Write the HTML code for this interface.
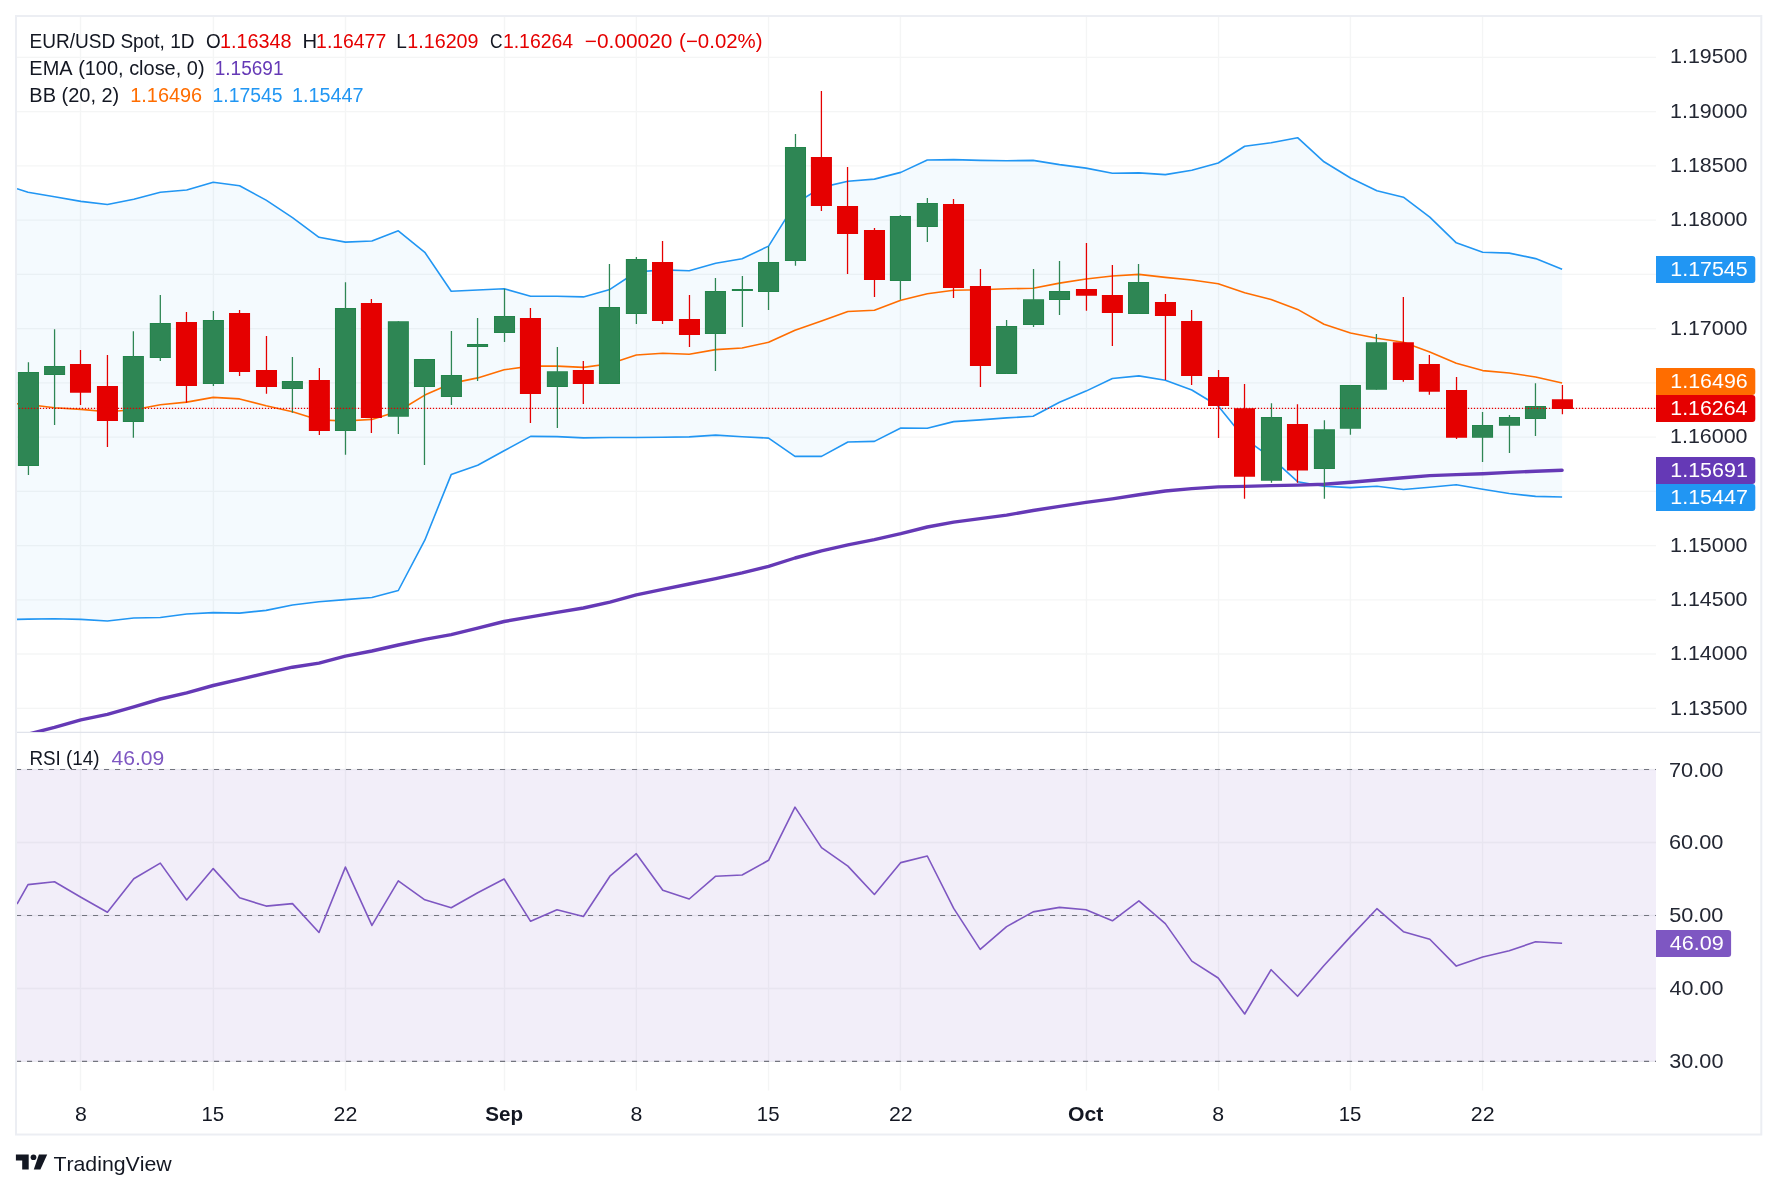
<!DOCTYPE html><html><head><meta charset="utf-8"><title>EUR/USD</title>
<style>html,body{margin:0;padding:0;background:#fff}svg{display:block;will-change:transform}text{font-family:"Liberation Sans",sans-serif;font-kerning:none}</style></head><body>
<svg width="1777" height="1191" viewBox="0 0 1777 1191">
<defs><clipPath id="cm"><rect x="17" y="17" width="1639" height="715"/></clipPath><clipPath id="cr"><rect x="17" y="733" width="1639" height="357"/></clipPath></defs>
<rect width="1777" height="1191" fill="#fff"/>
<path d="M80.50 17V1090.5M213.40 17V1090.5M345.49 17V1090.5M504.51 17V1090.5M636.39 17V1090.5M768.53 17V1090.5M900.42 17V1090.5M1086.45 17V1090.5M1218.54 17V1090.5M1350.41 17V1090.5M1482.53 17V1090.5M17 57.4H1656M17 111.6H1656M17 165.9H1656M17 220.1H1656M17 274.4H1656M17 328.6H1656M17 382.8H1656M17 437.1H1656M17 491.3H1656M17 545.6H1656M17 599.8H1656M17 654.0H1656M17 708.3H1656M17 842.5H1656M17 988.5H1656" stroke="rgba(40,50,60,0.05)" stroke-width="1.35" fill="none"/>
<path d="M17 732.3H1761" stroke="#e0e3eb" stroke-width="1.3" fill="none"/>
<g clip-path="url(#cm)">
<polygon points="17.0,188.7 28.0,192.3 54.5,196.7 80.9,201.4 107.4,204.5 133.8,199.3 160.3,192.3 186.7,190.0 213.2,182.2 239.6,185.8 266.1,200.1 292.5,217.7 319.0,237.3 345.4,242.1 371.9,241.0 398.3,230.8 424.8,252.3 451.2,291.3 477.7,290.0 504.1,288.8 530.6,296.2 557.0,296.2 583.4,296.9 609.9,289.4 636.3,272.0 662.8,269.9 689.2,270.8 715.7,263.3 742.1,258.7 768.6,246.1 795.0,203.8 821.5,187.4 847.9,181.3 874.4,179.1 900.8,172.4 927.3,160.0 953.7,159.6 980.2,160.4 1006.6,160.8 1033.1,160.4 1059.5,164.6 1086.0,168.1 1112.4,173.3 1138.9,172.9 1165.3,174.6 1191.8,170.3 1218.2,163.0 1244.7,146.2 1271.1,142.7 1297.6,137.7 1324.0,161.8 1350.5,178.0 1376.9,190.7 1403.4,197.2 1429.8,217.2 1456.3,242.8 1482.7,252.3 1509.2,253.1 1535.6,258.6 1562.1,269.3 1562.1,497.0 1535.6,496.4 1509.2,493.5 1482.7,489.3 1456.3,484.8 1429.8,487.2 1403.4,489.5 1376.9,486.2 1350.5,487.6 1324.0,486.2 1297.6,481.7 1271.1,457.7 1244.7,438.7 1218.2,406.0 1191.8,390.0 1165.3,380.3 1138.9,375.9 1112.4,378.5 1086.0,391.1 1059.5,402.2 1033.1,416.3 1006.6,417.9 980.2,419.9 953.7,421.6 927.3,428.3 900.8,428.0 874.4,441.4 847.9,442.0 821.5,456.4 795.0,456.4 768.6,438.1 742.1,436.7 715.7,435.1 689.2,436.9 662.8,437.3 636.3,437.5 609.9,437.5 583.4,437.9 557.0,436.6 530.6,436.4 504.1,450.8 477.7,465.3 451.2,474.6 424.8,540.2 398.3,590.5 371.9,597.5 345.4,599.6 319.0,601.8 292.5,605.0 266.1,610.4 239.6,613.1 213.2,612.6 186.7,614.0 160.3,617.5 133.8,618.0 107.4,621.0 80.9,619.4 54.5,618.8 28.0,619.1 17.0,619.4" fill="rgba(33,150,243,0.05)"/>
<polyline points="17.0,403.7 28.0,404.5 54.5,407.8 80.9,409.4 107.4,411.8 133.8,409.8 160.3,404.7 186.7,402.1 213.2,397.4 239.6,398.9 266.1,405.7 292.5,411.8 319.0,419.9 345.4,421.0 371.9,419.4 398.3,411.3 424.8,395.1 451.2,383.4 477.7,377.9 504.1,369.8 530.6,366.1 557.0,366.1 583.4,367.4 609.9,363.7 636.3,355.0 662.8,353.2 689.2,354.2 715.7,349.6 742.1,348.0 768.6,342.3 795.0,330.2 821.5,321.0 847.9,311.5 874.4,310.3 900.8,300.2 927.3,293.7 953.7,290.2 980.2,289.8 1006.6,288.8 1033.1,288.2 1059.5,283.1 1086.0,279.0 1112.4,276.0 1138.9,274.4 1165.3,277.4 1191.8,280.0 1218.2,283.7 1244.7,292.8 1271.1,299.5 1297.6,309.4 1324.0,324.2 1350.5,333.0 1376.9,338.3 1403.4,342.2 1429.8,352.0 1456.3,363.3 1482.7,370.6 1509.2,373.0 1535.6,377.0 1562.1,383.0" fill="none" stroke="#ff6d00" stroke-width="1.6" stroke-linejoin="round"/>
<polyline points="17.0,188.7 28.0,192.3 54.5,196.7 80.9,201.4 107.4,204.5 133.8,199.3 160.3,192.3 186.7,190.0 213.2,182.2 239.6,185.8 266.1,200.1 292.5,217.7 319.0,237.3 345.4,242.1 371.9,241.0 398.3,230.8 424.8,252.3 451.2,291.3 477.7,290.0 504.1,288.8 530.6,296.2 557.0,296.2 583.4,296.9 609.9,289.4 636.3,272.0 662.8,269.9 689.2,270.8 715.7,263.3 742.1,258.7 768.6,246.1 795.0,203.8 821.5,187.4 847.9,181.3 874.4,179.1 900.8,172.4 927.3,160.0 953.7,159.6 980.2,160.4 1006.6,160.8 1033.1,160.4 1059.5,164.6 1086.0,168.1 1112.4,173.3 1138.9,172.9 1165.3,174.6 1191.8,170.3 1218.2,163.0 1244.7,146.2 1271.1,142.7 1297.6,137.7 1324.0,161.8 1350.5,178.0 1376.9,190.7 1403.4,197.2 1429.8,217.2 1456.3,242.8 1482.7,252.3 1509.2,253.1 1535.6,258.6 1562.1,269.3" fill="none" stroke="#2196f3" stroke-width="1.6" stroke-linejoin="round"/>
<polyline points="17.0,619.4 28.0,619.1 54.5,618.8 80.9,619.4 107.4,621.0 133.8,618.0 160.3,617.5 186.7,614.0 213.2,612.6 239.6,613.1 266.1,610.4 292.5,605.0 319.0,601.8 345.4,599.6 371.9,597.5 398.3,590.5 424.8,540.2 451.2,474.6 477.7,465.3 504.1,450.8 530.6,436.4 557.0,436.6 583.4,437.9 609.9,437.5 636.3,437.5 662.8,437.3 689.2,436.9 715.7,435.1 742.1,436.7 768.6,438.1 795.0,456.4 821.5,456.4 847.9,442.0 874.4,441.4 900.8,428.0 927.3,428.3 953.7,421.6 980.2,419.9 1006.6,417.9 1033.1,416.3 1059.5,402.2 1086.0,391.1 1112.4,378.5 1138.9,375.9 1165.3,380.3 1191.8,390.0 1218.2,406.0 1244.7,438.7 1271.1,457.7 1297.6,481.7 1324.0,486.2 1350.5,487.6 1376.9,486.2 1403.4,489.5 1429.8,487.2 1456.3,484.8 1482.7,489.3 1509.2,493.5 1535.6,496.4 1562.1,497.0" fill="none" stroke="#2196f3" stroke-width="1.6" stroke-linejoin="round"/>
<polyline points="17.0,737.5 28.0,734.2 54.5,727.4 80.9,719.8 107.4,714.4 133.8,706.9 160.3,699.0 186.7,692.8 213.2,685.5 239.6,679.3 266.1,673.1 292.5,667.2 319.0,663.1 345.4,656.1 371.9,651.0 398.3,645.0 424.8,639.3 451.2,634.7 477.7,628.2 504.1,621.5 530.6,616.9 557.0,612.3 583.4,608.0 609.9,602.1 636.3,594.8 662.8,589.4 689.2,584.0 715.7,578.6 742.1,572.9 768.6,566.4 795.0,558.0 821.5,550.8 847.9,544.8 874.4,539.7 900.8,533.7 927.3,527.0 953.7,522.1 980.2,518.6 1006.6,515.1 1033.1,510.5 1059.5,506.4 1086.0,502.4 1112.4,498.9 1138.9,494.8 1165.3,491.0 1191.8,488.6 1218.2,486.9 1244.7,486.4 1271.1,485.6 1297.6,485.1 1324.0,484.3 1350.5,482.3 1376.9,480.0 1403.4,477.8 1429.8,475.6 1456.3,474.6 1482.7,473.7 1509.2,472.4 1535.6,471.2 1562.1,470.2" fill="none" stroke="#6539b6" stroke-width="3.4" stroke-linejoin="round" stroke-linecap="round"/>
<path d="M17.92 372.1h21.05V465.9h-21.05ZM44.05 366.0h21.05V374.9h-21.05ZM122.86 356.1h21.05V421.9h-21.05ZM149.80 323.1h21.05V357.9h-21.05ZM202.88 320.0h21.05V384.1h-21.05ZM281.89 381.0h21.05V388.9h-21.05ZM334.97 308.1h21.05V430.9h-21.05ZM387.83 321.2h21.05V416.8h-21.05ZM413.96 359.1h21.05V387.0h-21.05ZM440.91 375.1h21.05V396.9h-21.05ZM467.04 344.1h21.05V347.1h-21.05ZM493.99 316.1h21.05V332.9h-21.05ZM546.86 371.2h21.05V387.0h-21.05ZM598.93 307.0h21.05V384.0h-21.05ZM625.87 259.0h21.05V313.9h-21.05ZM704.93 291.1h21.05V334.0h-21.05ZM731.88 289.0h21.05V291.1h-21.05ZM758.01 262.1h21.05V291.9h-21.05ZM784.96 147.1h21.05V260.9h-21.05ZM889.90 216.1h21.05V281.0h-21.05ZM916.85 203.0h21.05V226.9h-21.05ZM996.06 326.1h21.05V373.9h-21.05ZM1023.01 299.2h21.05V324.9h-21.05ZM1048.99 291.0h21.05V299.9h-21.05ZM1128.00 282.1h21.05V313.9h-21.05ZM1260.95 417.0h21.05V480.8h-21.05ZM1313.89 429.3h21.05V469.0h-21.05ZM1339.89 385.0h21.05V428.8h-21.05ZM1365.89 342.2h21.05V389.8h-21.05ZM1472.01 425.0h21.05V437.8h-21.05ZM1498.95 417.0h21.05V425.7h-21.05ZM1524.95 406.1h21.05V418.9h-21.05Z" fill="#22844a"/>
<path d="M27.80 362.2h1.28V475.0h-1.28ZM18.82 373.0h19.25V465.0h-19.25ZM53.93 329.2h1.28V425.0h-1.28ZM44.95 366.9h19.25V374.0h-19.25ZM132.74 331.2h1.28V437.7h-1.28ZM123.76 357.0h19.25V421.0h-19.25ZM159.68 295.1h1.28V361.0h-1.28ZM150.70 324.0h19.25V357.0h-19.25ZM212.76 311.1h1.28V385.9h-1.28ZM203.78 320.9h19.25V383.2h-19.25ZM291.77 357.1h1.28V412.8h-1.28ZM282.79 381.9h19.25V388.0h-19.25ZM344.85 282.2h1.28V454.8h-1.28ZM335.87 309.0h19.25V430.0h-19.25ZM397.71 321.2h1.28V434.0h-1.28ZM388.73 322.1h19.25V415.9h-19.25ZM423.84 359.1h1.28V465.0h-1.28ZM414.86 360.0h19.25V386.1h-19.25ZM450.79 330.9h1.28V405.0h-1.28ZM441.81 376.0h19.25V396.0h-19.25ZM476.92 318.1h1.28V380.9h-1.28ZM467.94 345.0h19.25V346.2h-19.25ZM503.87 288.8h1.28V342.0h-1.28ZM494.89 317.0h19.25V332.0h-19.25ZM556.74 346.9h1.28V427.9h-1.28ZM547.76 372.1h19.25V386.1h-19.25ZM608.81 264.0h1.28V384.0h-1.28ZM599.83 307.9h19.25V383.1h-19.25ZM635.75 256.9h1.28V324.0h-1.28ZM626.77 259.9h19.25V313.0h-19.25ZM714.81 278.1h1.28V371.1h-1.28ZM705.83 292.0h19.25V333.1h-19.25ZM741.76 276.1h1.28V327.1h-1.28ZM767.89 246.5h1.28V309.9h-1.28ZM758.91 263.0h19.25V291.0h-19.25ZM794.84 134.1h1.28V265.8h-1.28ZM785.86 148.0h19.25V260.0h-19.25ZM899.78 215.1h1.28V299.8h-1.28ZM890.80 217.0h19.25V280.1h-19.25ZM926.73 197.9h1.28V241.9h-1.28ZM917.75 203.9h19.25V226.0h-19.25ZM1005.94 320.0h1.28V373.9h-1.28ZM996.96 327.0h19.25V373.0h-19.25ZM1032.89 269.0h1.28V327.1h-1.28ZM1023.91 300.1h19.25V324.0h-19.25ZM1058.87 261.0h1.28V314.9h-1.28ZM1049.89 291.9h19.25V299.0h-19.25ZM1137.88 264.0h1.28V313.9h-1.28ZM1128.90 283.0h19.25V313.0h-19.25ZM1270.83 403.3h1.28V482.7h-1.28ZM1261.85 417.9h19.25V479.9h-19.25ZM1323.77 420.3h1.28V498.7h-1.28ZM1314.79 430.2h19.25V468.1h-19.25ZM1349.77 385.0h1.28V434.7h-1.28ZM1340.79 385.9h19.25V427.9h-19.25ZM1375.77 334.1h1.28V389.8h-1.28ZM1366.79 343.1h19.25V388.9h-19.25ZM1481.89 412.0h1.28V461.9h-1.28ZM1472.91 425.9h19.25V436.9h-19.25ZM1508.83 415.0h1.28V452.9h-1.28ZM1499.85 417.9h19.25V424.8h-19.25ZM1534.83 383.2h1.28V435.9h-1.28ZM1525.85 407.0h19.25V418.0h-19.25Z" fill="#2e8654"/>
<path d="M79.86 350.0h1.28V404.9h-1.28ZM69.98 364.0h21.05V392.8h-21.05ZM106.81 355.1h1.28V446.9h-1.28ZM96.93 386.1h21.05V420.9h-21.05ZM185.82 312.1h1.28V402.7h-1.28ZM175.94 322.1h21.05V386.1h-21.05ZM238.90 310.1h1.28V376.0h-1.28ZM229.02 312.9h21.05V371.9h-21.05ZM265.84 336.0h1.28V393.8h-1.28ZM255.96 370.1h21.05V386.9h-21.05ZM318.72 368.1h1.28V434.9h-1.28ZM308.84 380.0h21.05V431.1h-21.05ZM370.76 298.9h1.28V433.0h-1.28ZM360.88 302.9h21.05V418.0h-21.05ZM529.80 308.0h1.28V422.9h-1.28ZM519.92 317.9h21.05V393.9h-21.05ZM582.67 361.1h1.28V404.0h-1.28ZM572.79 370.0h21.05V384.0h-21.05ZM661.89 241.1h1.28V324.0h-1.28ZM652.01 262.0h21.05V321.0h-21.05ZM688.83 295.0h1.28V346.9h-1.28ZM678.95 318.9h21.05V334.9h-21.05ZM820.77 91.1h1.28V211.1h-1.28ZM810.89 157.0h21.05V206.0h-21.05ZM846.90 167.1h1.28V273.9h-1.28ZM837.02 206.0h21.05V234.0h-21.05ZM873.85 228.1h1.28V297.0h-1.28ZM863.97 230.1h21.05V280.0h-21.05ZM952.86 199.1h1.28V298.0h-1.28ZM942.98 204.0h21.05V287.9h-21.05ZM979.81 269.0h1.28V386.9h-1.28ZM969.93 286.0h21.05V366.0h-21.05ZM1085.81 243.0h1.28V310.8h-1.28ZM1075.93 289.0h21.05V295.8h-21.05ZM1111.74 265.0h1.28V345.9h-1.28ZM1101.86 295.0h21.05V312.9h-21.05ZM1164.82 294.0h1.28V379.9h-1.28ZM1154.94 301.9h21.05V315.9h-21.05ZM1190.96 310.0h1.28V385.0h-1.28ZM1181.08 321.0h21.05V375.9h-21.05ZM1217.90 370.0h1.28V437.9h-1.28ZM1208.02 377.1h21.05V405.9h-21.05ZM1243.88 384.1h1.28V498.7h-1.28ZM1234.00 408.2h21.05V476.8h-21.05ZM1296.83 404.2h1.28V482.7h-1.28ZM1286.95 424.0h21.05V470.6h-21.05ZM1402.71 297.1h1.28V381.7h-1.28ZM1392.83 342.2h21.05V379.9h-21.05ZM1428.71 355.0h1.28V394.7h-1.28ZM1418.83 364.0h21.05V391.7h-21.05ZM1455.89 377.0h1.28V438.9h-1.28ZM1446.01 390.0h21.05V437.8h-21.05ZM1561.78 385.0h1.28V414.2h-1.28ZM1551.90 399.2h21.05V409.0h-21.05Z" fill="#e50000"/>
</g>
<path d="M18.85 408.45H1656" stroke="#e50000" stroke-width="1.3" stroke-dasharray="1.3 1.7" fill="none"/>
<rect x="17" y="769.5" width="1639" height="292.0" fill="rgba(126,87,194,0.1)"/>
<path d="M16 769.50H1656M16 915.48H1656M16 1061.46H1656" stroke="rgba(40,50,60,0.06)" stroke-width="1.3" fill="none"/>
<path d="M16 769.50H1656M16 915.48H1656M16 1061.46H1656" stroke="#73757f" stroke-width="1.2" stroke-dasharray="5.1 5.9" fill="none"/>
<g clip-path="url(#cr)">
<polyline points="17.0,904.1 28.0,884.6 54.5,881.8 80.9,897.3 107.4,912.2 133.8,878.8 160.3,863.1 186.7,900.0 213.2,868.6 239.6,897.8 266.1,906.1 292.5,903.6 319.0,932.5 345.4,867.1 371.9,925.4 398.3,880.8 424.8,899.8 451.2,907.8 477.7,892.7 504.1,879.0 530.6,921.3 557.0,909.7 583.4,916.5 609.9,876.2 636.3,853.7 662.8,890.2 689.2,899.0 715.7,876.2 742.1,875.0 768.6,860.3 795.0,807.1 821.5,847.6 847.9,866.1 874.4,894.5 900.8,862.6 927.3,856.0 953.7,908.4 980.2,949.4 1006.6,926.6 1033.1,911.9 1059.5,907.4 1086.0,909.7 1112.4,920.8 1138.9,900.8 1165.3,923.6 1191.8,961.1 1218.2,978.0 1244.7,1014.0 1271.1,969.7 1297.6,996.3 1324.0,965.5 1350.5,936.6 1376.9,908.7 1403.4,931.7 1429.8,939.3 1456.3,966.1 1482.7,957.0 1509.2,950.7 1535.6,941.8 1562.1,943.3" fill="none" stroke="#7e57c2" stroke-width="1.6" stroke-linejoin="round"/>
</g>
<rect x="16" y="16" width="1745.3" height="1118.5" fill="none" stroke="#eceef3" stroke-width="2"/>
<text x="29.44" y="48.00" font-size="20.0" fill="#131722" textLength="165.07" lengthAdjust="spacingAndGlyphs">EUR/USD Spot, 1D</text>
<text x="205.90" y="48.00" font-size="20.0" fill="#131722" textLength="14.70" lengthAdjust="spacingAndGlyphs">O</text>
<text x="219.89" y="48.00" font-size="20.0" fill="#e50000" textLength="71.78" lengthAdjust="spacingAndGlyphs">1.16348</text>
<text x="302.44" y="48.00" font-size="20.0" fill="#131722" textLength="14.61" lengthAdjust="spacingAndGlyphs">H</text>
<text x="316.12" y="48.00" font-size="20.0" fill="#e50000" textLength="70.05" lengthAdjust="spacingAndGlyphs">1.16477</text>
<text x="396.24" y="48.00" font-size="20.0" fill="#131722" textLength="10.60" lengthAdjust="spacingAndGlyphs">L</text>
<text x="407.30" y="48.00" font-size="20.0" fill="#e50000" textLength="71.23" lengthAdjust="spacingAndGlyphs">1.16209</text>
<text x="489.92" y="48.00" font-size="20.0" fill="#131722" textLength="12.54" lengthAdjust="spacingAndGlyphs">C</text>
<text x="502.92" y="48.00" font-size="20.0" fill="#e50000" textLength="70.25" lengthAdjust="spacingAndGlyphs">1.16264</text>
<text x="584.87" y="48.00" font-size="20.0" fill="#e50000" textLength="87.44" lengthAdjust="spacingAndGlyphs">−0.00020</text>
<text x="679.13" y="48.00" font-size="20.0" fill="#e50000" textLength="83.43" lengthAdjust="spacingAndGlyphs">(−0.02%)</text>
<text x="29.36" y="75.10" font-size="20.0" fill="#131722" textLength="175.17" lengthAdjust="spacingAndGlyphs">EMA (100, close, 0)</text>
<text x="214.75" y="75.10" font-size="20.0" fill="#6539b6" textLength="68.78" lengthAdjust="spacingAndGlyphs">1.15691</text>
<text x="29.36" y="102.00" font-size="20.0" fill="#131722" textLength="89.88" lengthAdjust="spacingAndGlyphs">BB (20, 2)</text>
<text x="130.29" y="102.00" font-size="20.0" fill="#ff6d00" textLength="71.79" lengthAdjust="spacingAndGlyphs">1.16496</text>
<text x="212.53" y="102.00" font-size="20.0" fill="#2196f3" textLength="69.88" lengthAdjust="spacingAndGlyphs">1.17545</text>
<text x="292.09" y="102.00" font-size="20.0" fill="#2196f3" textLength="71.50" lengthAdjust="spacingAndGlyphs">1.15447</text>
<text x="29.46" y="764.80" font-size="20.0" fill="#131722" textLength="70.11" lengthAdjust="spacingAndGlyphs">RSI (14)</text>
<text x="111.52" y="764.80" font-size="20.0" fill="#7e57c2" textLength="52.78" lengthAdjust="spacingAndGlyphs">46.09</text>
<text x="1670.07" y="63.05" font-size="19.8" fill="#232733" textLength="77.47" lengthAdjust="spacingAndGlyphs">1.19500</text>
<text x="1670.07" y="118.35" font-size="19.8" fill="#232733" textLength="77.47" lengthAdjust="spacingAndGlyphs">1.19000</text>
<text x="1670.07" y="172.05" font-size="19.8" fill="#232733" textLength="77.47" lengthAdjust="spacingAndGlyphs">1.18500</text>
<text x="1670.07" y="226.15" font-size="19.8" fill="#232733" textLength="77.47" lengthAdjust="spacingAndGlyphs">1.18000</text>
<text x="1670.07" y="335.05" font-size="19.8" fill="#232733" textLength="77.47" lengthAdjust="spacingAndGlyphs">1.17000</text>
<text x="1670.07" y="442.95" font-size="19.8" fill="#232733" textLength="77.47" lengthAdjust="spacingAndGlyphs">1.16000</text>
<text x="1670.07" y="552.05" font-size="19.8" fill="#232733" textLength="77.47" lengthAdjust="spacingAndGlyphs">1.15000</text>
<text x="1670.07" y="606.25" font-size="19.8" fill="#232733" textLength="77.47" lengthAdjust="spacingAndGlyphs">1.14500</text>
<text x="1670.07" y="660.45" font-size="19.8" fill="#232733" textLength="77.47" lengthAdjust="spacingAndGlyphs">1.14000</text>
<text x="1670.07" y="714.95" font-size="19.8" fill="#232733" textLength="77.47" lengthAdjust="spacingAndGlyphs">1.13500</text>
<text x="1668.98" y="776.70" font-size="19.8" fill="#232733" textLength="54.47" lengthAdjust="spacingAndGlyphs">70.00</text>
<text x="1668.99" y="848.95" font-size="19.8" fill="#232733" textLength="54.46" lengthAdjust="spacingAndGlyphs">60.00</text>
<text x="1669.23" y="922.05" font-size="19.8" fill="#232733" textLength="54.21" lengthAdjust="spacingAndGlyphs">50.00</text>
<text x="1669.61" y="995.15" font-size="19.8" fill="#232733" textLength="53.83" lengthAdjust="spacingAndGlyphs">40.00</text>
<text x="1669.28" y="1067.90" font-size="19.8" fill="#232733" textLength="54.17" lengthAdjust="spacingAndGlyphs">30.00</text>
<path d="M1656 256.0H1752.3a3 3 0 0 1 3 3V279.9a3 3 0 0 1 -3 3H1656Z" fill="#2196f3"/>
<text x="1670.27" y="276.30" font-size="19.3" fill="#fff" textLength="77.43" lengthAdjust="spacingAndGlyphs">1.17545</text>
<path d="M1656 368.1H1752.3a3 3 0 0 1 3 3V391.9a3 3 0 0 1 -3 3H1656Z" fill="#ff6d00"/>
<text x="1670.27" y="388.35" font-size="19.3" fill="#fff" textLength="77.47" lengthAdjust="spacingAndGlyphs">1.16496</text>
<path d="M1656 394.9H1752.3a3 3 0 0 1 3 3V418.9a3 3 0 0 1 -3 3H1656Z" fill="#e50000"/>
<text x="1670.27" y="415.23" font-size="19.3" fill="#fff" textLength="77.15" lengthAdjust="spacingAndGlyphs">1.16264</text>
<path d="M1656 457.0H1752.3a3 3 0 0 1 3 3V481.1a3 3 0 0 1 -3 3H1656Z" fill="#6539b6"/>
<text x="1670.27" y="477.40" font-size="19.3" fill="#fff" textLength="77.58" lengthAdjust="spacingAndGlyphs">1.15691</text>
<path d="M1656 484.1H1752.3a3 3 0 0 1 3 3V507.9a3 3 0 0 1 -3 3H1656Z" fill="#2196f3"/>
<text x="1670.26" y="504.35" font-size="19.3" fill="#fff" textLength="77.62" lengthAdjust="spacingAndGlyphs">1.15447</text>
<path d="M1656 930.0H1728.1a3 3 0 0 1 3 3V953.9a3 3 0 0 1 -3 3H1656Z" fill="#7e57c2"/>
<text x="1669.70" y="950.30" font-size="19.3" fill="#fff" textLength="54.02" lengthAdjust="spacingAndGlyphs">46.09</text>
<text x="74.99" y="1121.20" font-size="19.8" fill="#131722" textLength="11.85" lengthAdjust="spacingAndGlyphs">8</text>
<text x="201.46" y="1121.20" font-size="19.8" fill="#131722" textLength="22.71" lengthAdjust="spacingAndGlyphs">15</text>
<text x="333.53" y="1121.20" font-size="19.8" fill="#131722" textLength="23.75" lengthAdjust="spacingAndGlyphs">22</text>
<text x="485.31" y="1121.20" font-size="19.8" fill="#131722" font-weight="700" textLength="37.84" lengthAdjust="spacingAndGlyphs">Sep</text>
<text x="630.42" y="1121.20" font-size="19.8" fill="#131722" textLength="11.85" lengthAdjust="spacingAndGlyphs">8</text>
<text x="756.89" y="1121.20" font-size="19.8" fill="#131722" textLength="22.71" lengthAdjust="spacingAndGlyphs">15</text>
<text x="888.96" y="1121.20" font-size="19.8" fill="#131722" textLength="23.75" lengthAdjust="spacingAndGlyphs">22</text>
<text x="1068.01" y="1121.20" font-size="19.8" fill="#131722" font-weight="700" textLength="35.33" lengthAdjust="spacingAndGlyphs">Oct</text>
<text x="1212.30" y="1121.20" font-size="19.8" fill="#131722" textLength="11.85" lengthAdjust="spacingAndGlyphs">8</text>
<text x="1338.76" y="1121.20" font-size="19.8" fill="#131722" textLength="22.71" lengthAdjust="spacingAndGlyphs">15</text>
<text x="1470.84" y="1121.20" font-size="19.8" fill="#131722" textLength="23.75" lengthAdjust="spacingAndGlyphs">22</text>
<g fill="#131722"><path d="M15.9 1154.4H28.7V1169.6H22.2V1160.4H15.9Z"/><circle cx="33.5" cy="1157.25" r="2.85"/><path d="M38.9 1154.4H47.2L40.4 1169.6H33.8Z"/></g>
<text x="53.42" y="1170.90" font-size="20.6" fill="#131722" textLength="118.33" lengthAdjust="spacingAndGlyphs">TradingView</text>
</svg></body></html>
